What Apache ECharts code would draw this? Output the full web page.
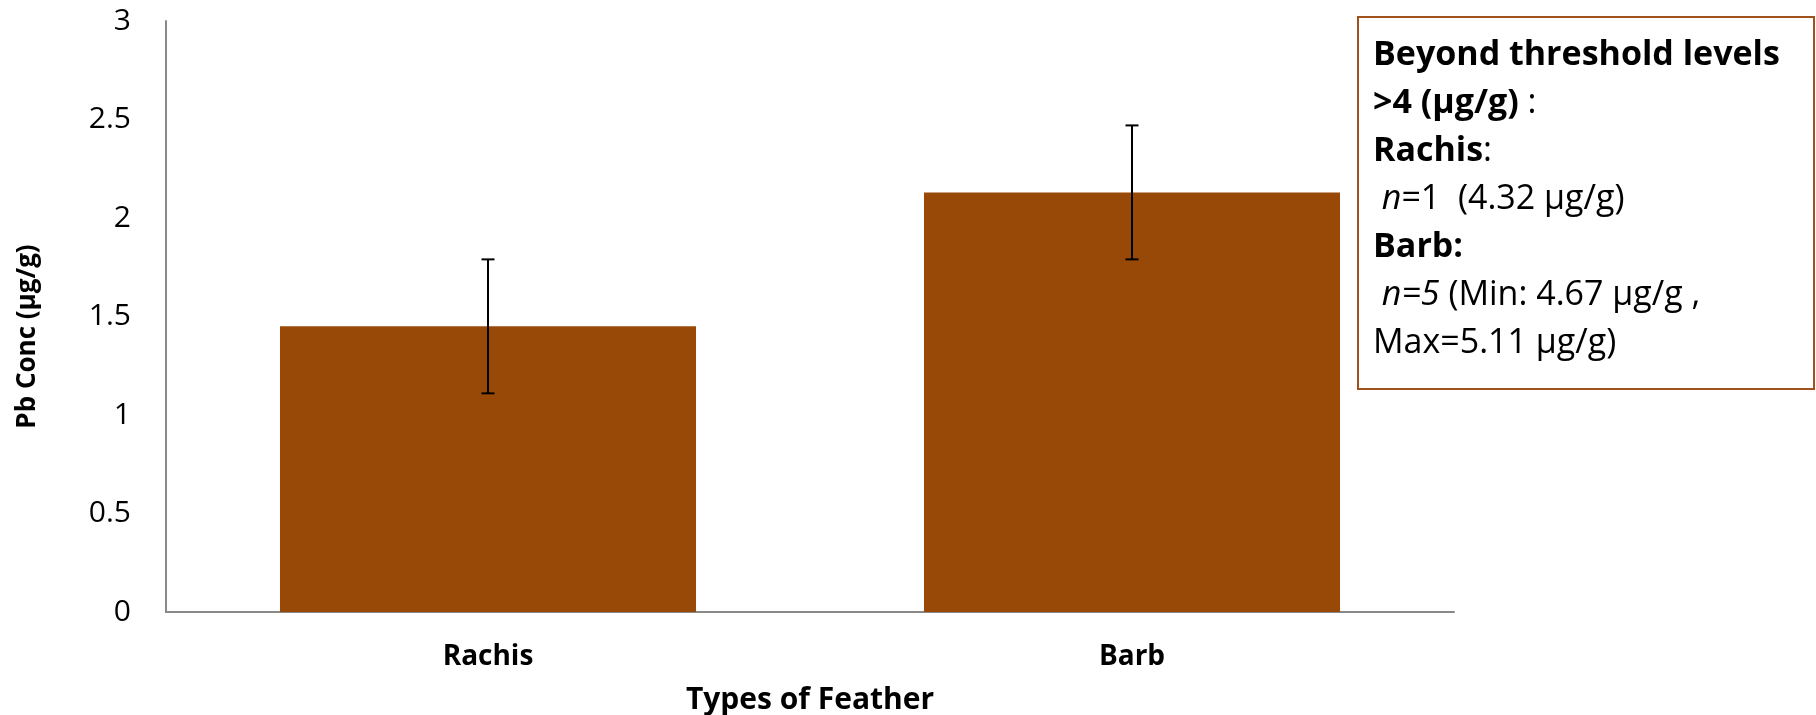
<!DOCTYPE html>
<html>
<head>
<meta charset="utf-8">
<script src="https://cdn.jsdelivr.net/npm/echarts@6/dist/echarts.min.js"></script>
<style>
html,body{margin:0;padding:0;background:#fff;}
#chart{width:1816px;height:715px;}
</style>
</head>
<body>
<div id="chart"></div>
<script>
// ---- data ----
const categories = ['Rachis', 'Barb'];
const means = [1.45, 2.13];
const errors = [0.34, 0.34];
const yTicks = [0, 0.5, 1, 1.5, 2, 2.5, 3];

const noteLines = [
  '{b|Beyond threshold levels}',
  '{b|>4 (µg/g)}{r| :}',
  '{b|Rachis}{r|:}',
  '{r| }{i|n}{r|=1  (4.32 µg/g)}',
  '{b|Barb:}',
  '{r| }{i|n=5}{r| (Min: 4.67 µg/g ,}',
  '{r|Max=5.11 µg/g)}'
];

const barColor = '#984807';
const axisColor = '#898989';
const font = 'Open Sans';

const chart = echarts.init(document.getElementById('chart'), null, {renderer: 'canvas'});

const errData = categories.map((c, i) => [i, means[i], errors[i]]);

const option = {
  backgroundColor: '#ffffff',
  animation: false,
  grid: {left: 166, right: 362, top: 21, bottom: 103, outerBoundsMode: 'none', containLabel: false},
  xAxis: {
    type: 'category',
    data: categories,
    axisLine: {show: true, lineStyle: {color: axisColor, width: 2}},
    axisTick: {show: false},
    axisLabel: {fontFamily: font, fontWeight: 'bold', fontSize: 28, color: '#000', margin: 31, lineHeight: 28},
    name: 'Types of Feather',
    nameLocation: 'middle',
    nameGap: 73,
    nameTextStyle: {fontFamily: font, fontWeight: 'bold', fontSize: 30, color: '#000'}
  },
  yAxis: {
    type: 'value',
    min: yTicks[0],
    max: yTicks[yTicks.length - 1],
    interval: yTicks[1] - yTicks[0],
    splitLine: {show: false},
    axisLine: {show: true, lineStyle: {color: axisColor, width: 2}},
    axisTick: {show: false},
    axisLabel: {fontFamily: font, fontSize: 30, color: '#000', margin: 35},
    name: 'Pb Conc (µg/g)',
    nameLocation: 'middle',
    nameGap: 125,
    nameRotate: 90,
    nameTextStyle: {fontFamily: font, fontWeight: 'bold', fontSize: 26, color: '#000', padding: [0, 40, 0, 0]}
  },
  series: [
    {
      type: 'bar',
      data: means,
      barWidth: '64.6%',
      itemStyle: {color: barColor},
      z: 2
    },
    {
      type: 'custom',
      data: errData,
      z: 5,
      renderItem: function (params, api) {
        const i = api.value(0);
        const m = api.value(1);
        const e = api.value(2);
        const top = api.coord([i, m + e]);
        const bot = api.coord([i, m - e]);
        const hw = 6.5;
        const st = {stroke: '#000', lineWidth: 2};
        return {
          type: 'group',
          children: [
            {type: 'line', shape: {x1: top[0], y1: top[1], x2: bot[0], y2: bot[1]}, style: st},
            {type: 'line', shape: {x1: top[0] - hw, y1: top[1], x2: top[0] + hw, y2: top[1]}, style: st},
            {type: 'line', shape: {x1: bot[0] - hw, y1: bot[1], x2: bot[0] + hw, y2: bot[1]}, style: st}
          ]
        };
      }
    }
  ],
  graphic: [
    {
      type: 'rect',
      left: 1357,
      top: 16,
      shape: {width: 456, height: 372},
      style: {fill: '#fff', stroke: '#A0521E', lineWidth: 2},
      z: 10
    },
    {
      type: 'text',
      left: 1373,
      top: 31,
      z: 11,
      style: {
        text: noteLines.join('\n'),
        fill: '#000',
        font: '34px "Open Sans"',
        lineHeight: 48,
        rich: {
          b: {fontFamily: font, fontWeight: 'bold', fontSize: 34, lineHeight: 48, fill: '#000'},
          r: {fontFamily: font, fontSize: 34, lineHeight: 48, fill: '#000'},
          i: {fontFamily: font, fontStyle: 'italic', fontSize: 34, lineHeight: 48, fill: '#000'}
        }
      }
    }
  ]
};

chart.setOption(option);
</script>
</body>
</html>
